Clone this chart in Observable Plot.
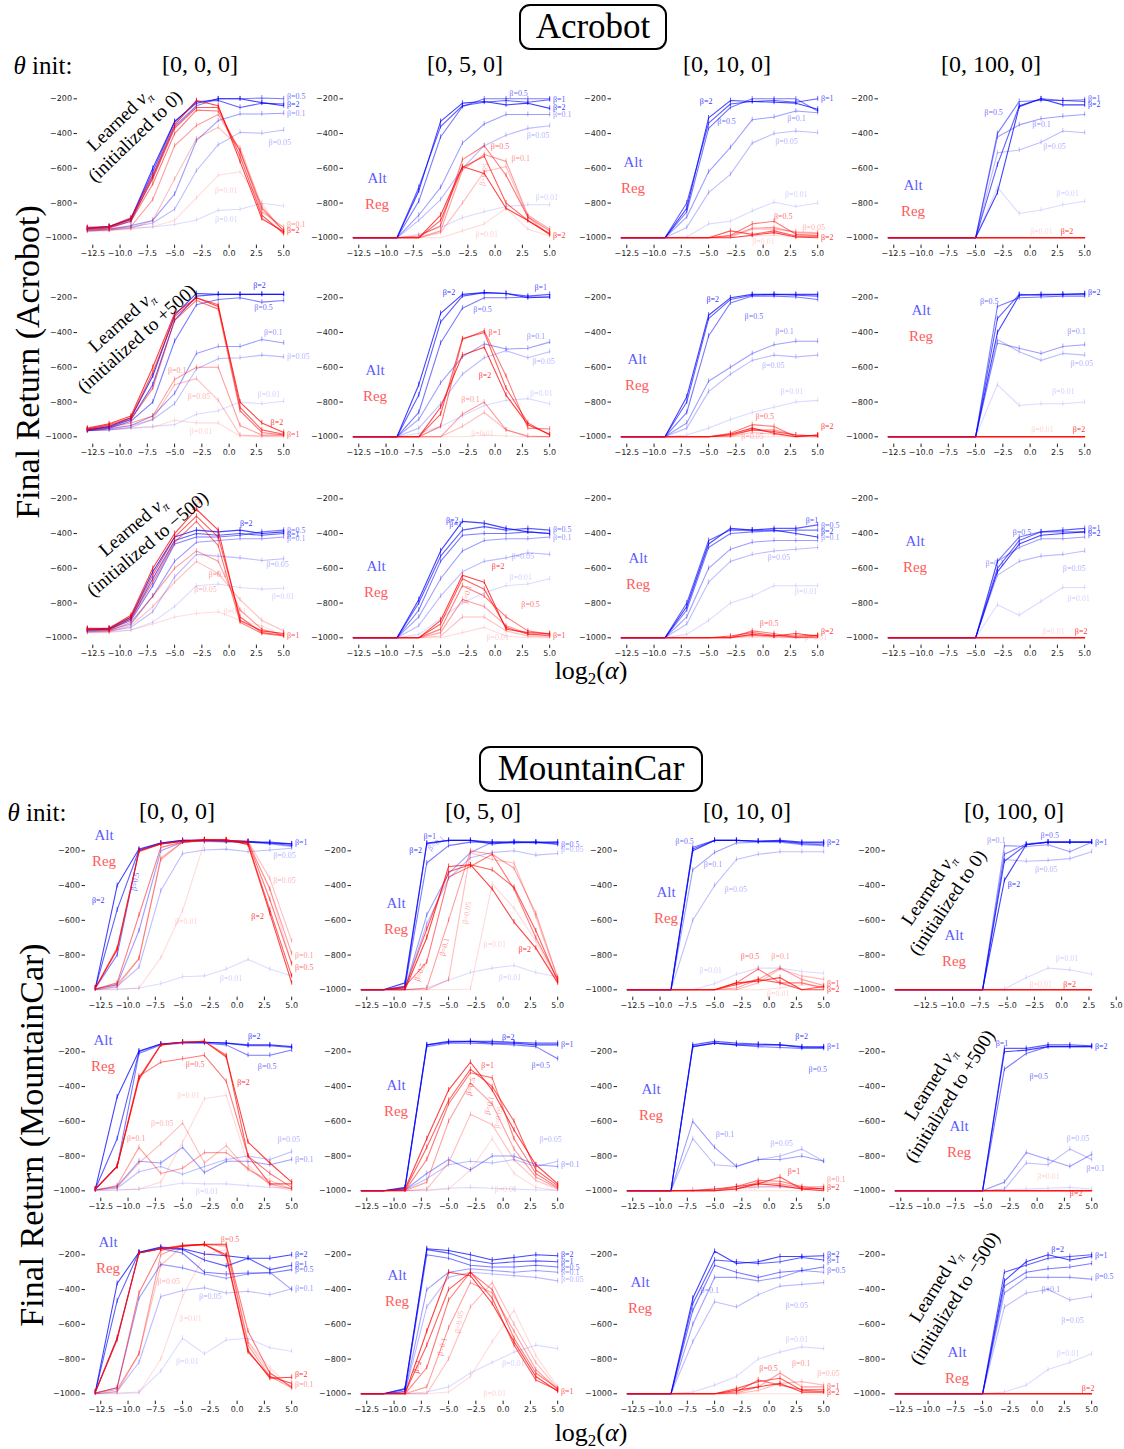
<!DOCTYPE html>
<html><head><meta charset="utf-8">
<script src="https://cdn.jsdelivr.net/npm/d3@7"></script>
<script src="https://cdn.jsdelivr.net/npm/@observablehq/plot@0.6"></script>
<style>
body{margin:0;background:#fff;}
#root{position:relative;width:1124px;height:1449px;overflow:hidden;font-family:"Liberation Serif",serif;color:#000;background:#fff;}
.abs{position:absolute;white-space:nowrap;transform:translate(-50%,-50%);line-height:1;}
.box{position:absolute;border:2px solid #000;border-radius:11px;display:flex;align-items:center;justify-content:center;box-sizing:border-box;transform:translate(-50%,-50%);}
.rot{position:absolute;white-space:nowrap;text-align:center;line-height:1.05;}
</style></head><body><div id="root"></div>
<script>
// ---------- shared ----------
const xs = [-13,-11,-9,-7,-5,-3,-1,1,3,5];
const betas = ["0.01","0.05","0.1","0.5","1","2"];
const xTicks = [-12.5,-10,-7.5,-5,-2.5,0,2.5,5];
const yTicks = [-1000,-800,-600,-400,-200];
const colHeads = ["[0, 0, 0]","[0, 5, 0]","[0, 10, 0]","[0, 100, 0]"];
const fail = [-1000,-1000,-1000,-1000,-1000,-1000,-1000,-1000,-1000,-1000];
const allFail = [fail,fail,fail,fail,fail,fail];

// ---------- Acrobot (series order: beta 0.01,0.05,0.1,0.5,1,2) ----------
const A11_alt = [[-960,-955,-945,-938,-923,-897,-842,-836,-801,-817],[-960,-955,-940,-915,-836,-614,-464,-393,-398,-379],[-955,-950,-930,-900,-749,-441,-325,-287,-287,-283],[-950,-940,-905,-650,-360,-240,-200,-200,-195,-200],[-945,-935,-895,-620,-335,-215,-210,-250,-225,-230],[-945,-935,-890,-600,-330,-225,-200,-200,-222,-240]];
const A11_reg = [[-965,-960,-950,-935,-900,-770,-640,-620,-800,-985],[-960,-955,-945,-900,-662,-430,-364,-480,-820,-960],[-955,-950,-935,-780,-470,-354,-290,-500,-850,-940],[-950,-945,-905,-690,-400,-265,-270,-500,-830,-960],[-945,-940,-895,-660,-370,-250,-250,-530,-870,-975],[-940,-935,-885,-640,-350,-210,-240,-560,-890,-965]];
const A11_lab = [["A","0.5",5.3,-185],["A","2",5.3,-235],["A","0.1",5.3,-285],["A","0.05",3.6,-450],["A","0.01",-1.3,-895],["R","0.01",-1.3,-725],["R","0.1",5.3,-925],["R","2",5.3,-960]];

const A12_alt = [[-1000,-1000,-1000,-980,-940,-885,-850,-820,-810,-810],[-1000,-1000,-1000,-900,-780,-600,-470,-410,-370,-355],[-1000,-1000,-1000,-870,-710,-455,-345,-290,-290,-290],[-1000,-1000,-1000,-790,-420,-245,-200,-200,-200,-200],[-1000,-1000,-1000,-710,-360,-240,-220,-210,-220,-205],[-1000,-1000,-1000,-730,-330,-225,-215,-235,-225,-255]];
const A12_reg = [[-1000,-1000,-1000,-1000,-1000,-960,-920,-830,-950,-990],[-1000,-1000,-1000,-1000,-970,-800,-620,-590,-880,-985],[-1000,-1000,-1000,-1000,-960,-610,-520,-560,-870,-950],[-1000,-1000,-1000,-990,-930,-550,-470,-640,-880,-960],[-1000,-1000,-1000,-1000,-900,-595,-530,-800,-900,-975],[-1000,-1000,-1000,-1000,-870,-590,-630,-830,-900,-980]];
const A12_lab = [["A","0.5",1.3,-170],["A","1",5.3,-205],["A","2",5.3,-250],["A","0.1",5.3,-290],["A","0.05",2.9,-408],["R","0.5",-0.4,-475],["R","0.1",1.5,-545],["R","0.05",-1.2,-700,-80],["A","0.01",3.7,-765],["R","0.01",-1.8,-980],["R","2",5.3,-985]];

const A13_alt = [[-1000,-1000,-1000,-995,-920,-905,-845,-795,-820,-800],[-1000,-1000,-1000,-940,-740,-635,-455,-400,-385,-395],[-1000,-1000,-1000,-880,-620,-480,-320,-305,-270,-280],[-1000,-1000,-1000,-850,-370,-250,-200,-200,-200,-270],[-1000,-1000,-1000,-800,-340,-230,-215,-210,-220,-200],[-1000,-1000,-1000,-830,-310,-210,-215,-220,-225,-260]];
const A13_reg = [[-1000,-1000,-1000,-1000,-1000,-1000,-990,-985,-995,-995],[-1000,-1000,-1000,-1000,-1000,-995,-950,-950,-965,-970],[-1000,-1000,-1000,-1000,-1000,-990,-945,-940,-970,-975],[-1000,-1000,-1000,-1000,-1000,-985,-920,-905,-980,-985],[-1000,-1000,-1000,-1000,-1000,-960,-980,-960,-990,-990],[-1000,-1000,-1000,-1000,-1000,-1000,-985,-970,-995,-1000]];
const A13_lab = [["A","2",-5.8,-213],["A","1",5.3,-200],["A","0.5",-4.2,-330],["A","0.1",2.2,-312],["A","0.05",1.1,-447],["A","0.01",2.0,-753],["R","0.5",1.0,-879],["R","0.05",3.6,-942],["R","2",5.3,-995],["R","0.01",-1.0,-1020]];

const A14_alt = [[-1000,-1000,-1000,-1000,-1000,-710,-860,-840,-810,-790],[-1000,-1000,-1000,-1000,-1000,-510,-495,-450,-385,-395],[-1000,-1000,-1000,-1000,-1000,-420,-350,-315,-300,-290],[-1000,-1000,-1000,-1000,-1000,-400,-215,-210,-210,-205],[-1000,-1000,-1000,-1000,-1000,-580,-240,-200,-210,-215],[-1000,-1000,-1000,-1000,-1000,-740,-245,-200,-235,-235]];
const A14_reg = allFail;
const A14_lab = [["A","1",5.3,-200],["A","2",5.3,-235],["A","0.5",-4.2,-277],["A","0.1",0.2,-345],["A","0.05",1.2,-476],["A","0.01",2.4,-745],["R","0.01",0.0,-965],["R","2",2.8,-965]];

const A21_alt = [[-965,-960,-950,-940,-930,-870,-850,-800,-810,-795],[-965,-960,-945,-900,-810,-610,-550,-545,-530,-540],[-965,-955,-935,-880,-750,-520,-480,-480,-440,-460],[-965,-950,-910,-800,-450,-240,-210,-200,-225,-215],[-960,-945,-900,-700,-330,-190,-180,-180,-180,-180],[-960,-940,-890,-650,-300,-175,-180,-180,-180,-180]];
const A21_reg = [[-965,-960,-950,-945,-905,-920,-920,-995,-1000,-1000],[-960,-950,-935,-900,-700,-665,-790,-990,-995,-995],[-960,-945,-920,-880,-670,-600,-600,-935,-990,-990],[-955,-935,-900,-720,-330,-215,-265,-850,-975,-990],[-955,-930,-890,-630,-310,-200,-240,-830,-960,-985],[-950,-925,-880,-600,-290,-200,-250,-800,-920,-975]];
const A21_lab = [["A","2",2.2,-127],["A","0.5",2.3,-258],["A","0.1",3.2,-402],["A","0.05",5.3,-540],["A","0.01",2.6,-755],["R","0.1",-5.6,-616],["R","0.05",-3.8,-768],["R","0.01",-3.6,-970],["R","2",3.8,-918],["R","1",5.3,-985]];

const A22_alt = [[-1000,-1000,-1000,-980,-940,-880,-820,-790,-780,-810],[-1000,-1000,-1000,-950,-810,-640,-545,-505,-545,-510],[-1000,-1000,-1000,-900,-690,-540,-465,-495,-490,-455],[-1000,-1000,-1000,-860,-460,-260,-200,-200,-195,-195],[-1000,-1000,-1000,-760,-340,-190,-170,-175,-190,-180],[-1000,-1000,-1000,-700,-290,-180,-170,-175,-200,-195]];
const A22_reg = [[-1000,-1000,-1000,-1000,-1000,-1000,-990,-995,-1000,-1000],[-1000,-1000,-1000,-1000,-1000,-940,-860,-960,-1000,-1000],[-1000,-1000,-1000,-1000,-1000,-870,-800,-960,-995,-1000],[-1000,-1000,-1000,-1000,-940,-440,-390,-650,-950,-955],[-1000,-1000,-1000,-1000,-870,-435,-400,-720,-920,-990],[-1000,-1000,-1000,-1000,-830,-530,-485,-760,-930,-985]];
const A22_lab = [["A","2",-4.8,-171],["A","1",3.6,-142],["A","0.5",-2.0,-267],["A","0.1",2.9,-421],["A","0.05",3.4,-566],["A","0.01",3.2,-749],["R","1",-0.6,-400],["R","2",-1.5,-648],["R","0.1",-3.1,-786],["R","0.01",-2.2,-980]];

const A23_alt = [[-1000,-1000,-1000,-990,-950,-900,-860,-830,-800,-790],[-1000,-1000,-1000,-950,-740,-640,-560,-530,-540,-530],[-1000,-1000,-1000,-920,-680,-600,-520,-470,-450,-450],[-1000,-1000,-1000,-860,-420,-230,-190,-190,-195,-210],[-1000,-1000,-1000,-800,-320,-210,-185,-180,-185,-190],[-1000,-1000,-1000,-770,-300,-200,-180,-180,-180,-180]];
const A23_reg = [fail,[-1000,-1000,-1000,-1000,-1000,-1000,-975,-985,-1000,-1000],[-1000,-1000,-1000,-1000,-1000,-995,-960,-960,-990,-995],[-1000,-1000,-1000,-1000,-1000,-980,-930,-940,-1000,-990],[-1000,-1000,-1000,-1000,-1000,-990,-960,-970,-990,-995],[-1000,-1000,-1000,-1000,-1000,-985,-950,-980,-1000,-990]];
const A23_lab = [["A","2",-5.2,-212],["A","0.5",-1.7,-310],["A","0.1",1.1,-391],["A","0.05",-0.1,-588],["A","0.01",1.6,-740],["R","0.5",-0.7,-884],["R","2",5.3,-942],["R","0.05",-2.0,-1000]];

const A24_alt = [[-1000,-1000,-1000,-1000,-1000,-700,-820,-810,-810,-800],[-1000,-1000,-1000,-1000,-1000,-440,-510,-560,-520,-530],[-1000,-1000,-1000,-1000,-1000,-460,-490,-520,-480,-470],[-1000,-1000,-1000,-1000,-1000,-250,-200,-195,-190,-190],[-1000,-1000,-1000,-1000,-1000,-320,-180,-185,-180,-180],[-1000,-1000,-1000,-1000,-1000,-400,-185,-180,-180,-175]];
const A24_reg = allFail;
const A24_lab = [["A","0.5",-4.6,-220],["A","2",5.3,-170],["A","0.1",3.4,-391],["A","0.05",3.7,-577],["A","0.01",2.0,-740],["R","0.01",0.1,-960],["R","2",3.9,-960]];

const A31_alt = [[-970,-965,-955,-910,-820,-700,-690,-710,-720,-715],[-965,-960,-940,-850,-650,-520,-530,-540,-555,-545],[-960,-955,-920,-760,-560,-450,-440,-430,-430,-420],[-955,-950,-900,-700,-460,-420,-420,-410,-390,-380],[-955,-950,-890,-660,-440,-400,-410,-400,-410,-400],[-950,-945,-880,-620,-420,-380,-390,-380,-400,-390]];
const A31_reg = [[-970,-970,-955,-920,-880,-860,-850,-900,-930,-990],[-965,-965,-930,-820,-680,-560,-630,-780,-900,-960],[-960,-960,-910,-760,-600,-500,-560,-840,-950,-985],[-950,-955,-890,-680,-450,-330,-470,-910,-975,-990],[-950,-950,-880,-640,-420,-300,-420,-880,-970,-985],[-945,-945,-870,-600,-400,-260,-380,-900,-960,-975]];
const A31_lab = [["A","2",1.0,-339],["A","0.5",5.3,-380],["A","1",5.3,-405],["A","0.1",5.3,-430],["A","0.05",3.4,-577],["A","0.01",3.9,-762],["R","2",-3.2,-270,-70],["R","0.1",-1.9,-635],["R","0.05",-3.2,-722],["R","0.01",-0.5,-850],["R","1",5.3,-985]];

const A32_alt = [[-1000,-1000,-1000,-980,-890,-800,-740,-700,-690,-660],[-1000,-1000,-1000,-930,-760,-620,-560,-540,-510,-520],[-1000,-1000,-1000,-880,-660,-500,-440,-430,-430,-420],[-1000,-1000,-1000,-840,-560,-410,-400,-400,-390,-400],[-1000,-1000,-1000,-800,-530,-380,-360,-380,-370,-380],[-1000,-1000,-1000,-780,-500,-330,-340,-370,-390,-400]];
const A32_reg = [[-1000,-1000,-1000,-1000,-1000,-970,-940,-990,-1000,-1000],[-1000,-1000,-1000,-1000,-990,-880,-880,-960,-990,-995],[-1000,-1000,-1000,-1000,-970,-780,-820,-930,-975,-990],[-1000,-1000,-1000,-1000,-950,-700,-760,-880,-960,-980],[-1000,-1000,-1000,-1000,-920,-660,-720,-940,-980,-985],[-1000,-1000,-1000,-1000,-900,-640,-680,-950,-970,-975]];
const A32_lab = [["A","2",-4.5,-322],["A","1",-4.2,-345],["A","0.5",5.3,-375],["A","0.1",5.3,-420],["A","0.05",1.5,-530],["A","0.01",1.3,-650],["R","2",-0.3,-591],["R","0.5",2.4,-806],["R","0.1",-2.8,-800,-75],["R","0.01",-0.8,-1000],["R","1",5.3,-985]];

const A33_alt = [[-1000,-1000,-1000,-980,-900,-800,-760,-700,-700,-700],[-1000,-1000,-1000,-920,-680,-560,-520,-500,-490,-480],[-1000,-1000,-1000,-880,-600,-490,-450,-440,-440,-440],[-1000,-1000,-1000,-840,-480,-400,-390,-385,-380,-380],[-1000,-1000,-1000,-800,-440,-380,-380,-370,-370,-350],[-1000,-1000,-1000,-820,-460,-370,-380,-380,-400,-420]];
const A33_reg = [fail,[-1000,-1000,-1000,-1000,-1000,-1000,-990,-995,-1000,-1000],[-1000,-1000,-1000,-1000,-1000,-995,-985,-990,-995,-1000],[-1000,-1000,-1000,-1000,-1000,-1000,-960,-975,-1000,-990],[-1000,-1000,-1000,-1000,-1000,-990,-970,-985,-990,-985],[-1000,-1000,-1000,-1000,-1000,-1000,-980,-990,-975,-990]];
const A33_lab = [["A","1",3.9,-322],["A","0.5",5.3,-355],["A","2",5.3,-390],["A","0.1",5.3,-420],["A","0.05",0.4,-536],["A","0.01",2.9,-733],["R","0.5",-0.3,-919],["R","2",5.3,-965],["R","0.01",3.8,-995]];

const A34_alt = [[-1000,-1000,-1000,-1000,-1000,-810,-870,-790,-710,-710],[-1000,-1000,-1000,-1000,-1000,-640,-560,-530,-520,-500],[-1000,-1000,-1000,-1000,-1000,-560,-480,-430,-430,-420],[-1000,-1000,-1000,-1000,-1000,-560,-420,-390,-390,-390],[-1000,-1000,-1000,-1000,-1000,-600,-440,-390,-380,-370],[-1000,-1000,-1000,-1000,-1000,-620,-460,-410,-400,-390]];
const A34_reg = allFail;
const A34_lab = [["A","0.5",-1.6,-391],["A","1",5.3,-370],["A","2",5.3,-400],["A","0.1",-4.1,-571],["A","0.05",3.0,-600],["A","0.01",3.4,-774],["R","0.01",1.1,-965],["R","2",4.1,-965]];

// ---------- MountainCar ----------
const M11_alt = [[-1000,-995,-990,-965,-925,-920,-880,-825,-880,-920],[-1000,-980,-870,-430,-215,-195,-190,-205,-195,-185],[-995,-970,-660,-200,-150,-145,-150,-150,-160,-175],[-990,-800,-200,-160,-145,-140,-145,-150,-155,-170],[-990,-540,-195,-155,-140,-140,-145,-150,-150,-160],[-990,-400,-190,-155,-140,-140,-140,-145,-155,-160]];
const M11_reg = [[-1000,-1000,-990,-815,-545,-150,-145,-150,-420,-850],[-1000,-985,-820,-240,-150,-140,-140,-145,-360,-720],[-995,-970,-820,-250,-150,-140,-140,-150,-420,-790],[-995,-960,-570,-180,-150,-140,-140,-150,-480,-850],[-990,-760,-205,-160,-145,-135,-140,-160,-540,-920],[-990,-770,-200,-160,-145,-135,-135,-165,-560,-960]];
const M11_lab = [["A","1",5.3,-150],["A","0.05",3.3,-229],["A","2",-13.3,-488],["A","0.5",-9.5,-430,-80],["A","0.01",-1.6,-933],["R","0.05",3.3,-369],["R","2",1.3,-580],["R","0.01",-5.7,-607],["R","0.1",5.3,-800],["R","0.5",5.3,-870]];

const M12_alt = [[-1000,-1000,-1000,-990,-945,-900,-875,-860,-900,-925],[-1000,-1000,-995,-620,-360,-240,-210,-200,-225,-215],[-1000,-1000,-990,-570,-330,-210,-150,-145,-150,-165],[-1000,-1000,-985,-270,-170,-150,-150,-150,-155,-150],[-1000,-1000,-980,-160,-140,-140,-150,-155,-150,-160],[-1000,-1000,-960,-155,-140,-140,-160,-150,-150,-150]];
const M12_reg = [[-1000,-1000,-1000,-1000,-1000,-995,-390,-530,-720,-960],[-1000,-1000,-1000,-1000,-940,-210,-250,-270,-580,-940],[-1000,-1000,-1000,-990,-600,-200,-220,-300,-560,-930],[-1000,-1000,-980,-840,-350,-290,-220,-420,-700,-940],[-1000,-1000,-990,-650,-320,-280,-310,-410,-660,-950],[-1000,-1000,-1000,-700,-290,-280,-420,-610,-760,-960]];
const M12_lab = [["A","1",-7.3,-119],["A","2",-8.6,-196],["A","0.1",-6.8,-190,-40],["A","0.5",5.3,-165],["A","0.05",5.3,-190],["A","0.01",-0.4,-929],["R","0.5",-7.9,-949,-70],["R","0.1",-5.6,-805,-75],["R","0.05",-3.5,-622,-80],["R","0.01",-1.8,-737],["R","2",1.4,-766]];

const M13_alt = [[-1000,-1000,-1000,-1000,-965,-910,-875,-875,-895,-905],[-1000,-1000,-1000,-600,-400,-250,-220,-205,-205,-205],[-1000,-1000,-1000,-310,-210,-155,-150,-150,-165,-170],[-1000,-1000,-1000,-180,-140,-140,-145,-145,-160,-165],[-1000,-1000,-1000,-190,-140,-140,-145,-145,-155,-155],[-1000,-1000,-1000,-200,-140,-140,-145,-140,-150,-150]];
const M13_reg = [[-1000,-1000,-1000,-1000,-1000,-1000,-1000,-990,-970,-980],[-1000,-1000,-1000,-1000,-1000,-1000,-960,-880,-920,-940],[-1000,-1000,-1000,-1000,-1000,-990,-940,-875,-940,-975],[-1000,-1000,-1000,-1000,-1000,-960,-880,-960,-960,-990],[-1000,-1000,-1000,-1000,-1000,-970,-940,-960,-1000,-980],[-1000,-1000,-1000,-1000,-1000,-960,-950,-930,-1000,-1000]];
const M13_lab = [["A","0.5",-8.6,-146],["A","0.1",-6.0,-277],["A","0.05",-4.1,-421],["A","2",5.3,-150],["A","0.01",-6.4,-891],["R","0.5",-2.6,-810],["R","0.1",0.2,-810],["R","1",5.3,-965],["R","2",5.3,-1000],["R","0.01",-0.2,-1018]];

const M14_alt = [[-1000,-1000,-1000,-1000,-1000,-995,-930,-875,-885,-910],[-1000,-1000,-1000,-1000,-1000,-250,-260,-255,-245,-205],[-1000,-1000,-1000,-1000,-1000,-170,-175,-165,-205,-150],[-1000,-1000,-1000,-1000,-1000,-220,-160,-150,-150,-150],[-1000,-1000,-1000,-1000,-1000,-260,-165,-150,-150,-150],[-1000,-1000,-1000,-1000,-1000,-370,-165,-150,-150,-150]];
const M14_reg = allFail;
const M14_lab = [["A","0.1",-4.6,-138],["A","0.5",0.3,-113],["A","1",5.3,-150],["A","2",-2.7,-396],["A","0.05",-0.2,-306],["A","0.01",1.7,-818],["R","0.01",-0.7,-968],["R","2",2.4,-968]];

const M21_alt = [[-1000,-995,-990,-975,-955,-960,-960,-970,-980,-985],[-995,-985,-890,-860,-905,-860,-820,-800,-820,-775],[-995,-975,-830,-840,-750,-895,-830,-830,-850,-820],[-990,-860,-210,-160,-150,-150,-160,-220,-220,-190],[-990,-700,-200,-155,-145,-145,-150,-165,-165,-175],[-990,-460,-195,-155,-145,-145,-150,-160,-160,-170]];
const M21_reg = [[-1000,-995,-990,-950,-720,-470,-450,-850,-970,-1000],[-995,-980,-840,-730,-610,-840,-740,-880,-940,-990],[-995,-970,-750,-900,-870,-780,-780,-870,-960,-990],[-990,-860,-340,-260,-240,-220,-370,-800,-900,-980],[-990,-860,-360,-160,-145,-140,-220,-800,-960,-960],[-990,-860,-350,-160,-145,-140,-230,-720,-840,-950]];
const M21_lab = [["A","2",1.0,-110],["A","0.5",1.9,-283],["A","0.05",3.7,-706],["A","0.1",5.3,-820],["A","0.01",-3.8,-1004],["R","0.5",-4.7,-273],["R","2",0,-379],["R","0.01",-5.5,-450],["R","0.05",-7.9,-610],["R","0.1",-10.1,-700]];

const M22_alt = [[-1000,-1000,-1000,-995,-985,-980,-985,-990,-995,-995],[-1000,-1000,-995,-930,-850,-830,-840,-820,-860,-830],[-1000,-1000,-995,-900,-820,-880,-800,-800,-850,-860],[-1000,-1000,-990,-170,-150,-150,-155,-160,-170,-240],[-1000,-1000,-985,-160,-145,-140,-140,-145,-150,-150],[-1000,-1000,-980,-160,-140,-140,-150,-150,-160,-160]];
const M22_reg = [[-1000,-1000,-1000,-1000,-990,-880,-700,-900,-980,-1000],[-1000,-1000,-1000,-990,-840,-560,-620,-820,-940,-990],[-1000,-1000,-1000,-950,-600,-380,-500,-760,-920,-985],[-1000,-1000,-1000,-820,-500,-320,-350,-700,-900,-980],[-1000,-1000,-995,-750,-480,-300,-400,-600,-880,-970],[-1000,-1000,-990,-700,-420,-260,-420,-650,-850,-960]];
const M22_lab = [["A","2",-0.1,-119],["A","1",5.3,-160],["A","0.5",2.6,-281],["A","0.05",3.3,-704],["A","0.1",5.3,-850],["R","1",-2.0,-281],["R","0.5",-3.2,-450,-75],["R","0.1",-1.5,-560,-75],["R","0.05",-0.6,-640,-80],["R","0.01",-0.8,-990]];

const M23_alt = [[-1000,-1000,-1000,-995,-990,-985,-980,-980,-985,-990],[-1000,-1000,-1000,-700,-850,-860,-820,-800,-760,-830],[-1000,-1000,-1000,-600,-750,-860,-820,-820,-800,-830],[-1000,-1000,-1000,-170,-150,-160,-170,-175,-180,-180],[-1000,-1000,-1000,-160,-140,-150,-155,-160,-175,-170],[-1000,-1000,-1000,-170,-150,-160,-160,-160,-170,-175]];
const M23_reg = [fail,[-1000,-1000,-1000,-995,-990,-985,-975,-975,-985,-990],[-1000,-1000,-1000,-1000,-1000,-990,-950,-960,-980,-975],[-1000,-1000,-1000,-1000,-1000,-975,-940,-945,-975,-990],[-1000,-1000,-1000,-1000,-990,-975,-960,-920,-990,-985],[-1000,-1000,-1000,-1000,-1000,-990,-960,-970,-990,-1000]];
const M23_lab = [["A","2",2.4,-113],["A","1",5.3,-170],["A","0.5",3.6,-304],["A","0.1",-4.9,-675],["A","0.05",0.1,-727],["R","1",1.7,-890],["R","0.1",5.3,-936],["R","2",5.3,-980],["R","0.01",-3.2,-980]];

const M24_alt = [[-1000,-1000,-1000,-1000,-1000,-995,-990,-985,-980,-990],[-1000,-1000,-1000,-1000,-1000,-990,-840,-850,-760,-820],[-1000,-1000,-1000,-1000,-1000,-950,-780,-820,-860,-790],[-1000,-1000,-1000,-1000,-1000,-300,-210,-170,-170,-170],[-1000,-1000,-1000,-1000,-1000,-180,-180,-160,-160,-165],[-1000,-1000,-1000,-1000,-1000,-200,-190,-170,-170,-170]];
const M24_reg = allFail;
const M24_lab = [["A","1",-3.8,-154],["A","0.5",-0.7,-339],["A","2",5.3,-171],["A","0.05",2.7,-699],["A","0.1",4.5,-870],["R","2",3.0,-1014],["R","0.01",0.0,-920]];

const M31_alt = [[-1000,-995,-990,-870,-680,-770,-690,-680,-735,-755],[-1000,-985,-820,-440,-405,-390,-420,-410,-430,-395],[-995,-965,-450,-255,-275,-310,-335,-310,-300,-400],[-990,-680,-190,-165,-190,-300,-310,-305,-305,-285],[-990,-465,-185,-160,-170,-230,-265,-220,-285,-260],[-990,-365,-185,-155,-165,-195,-205,-220,-220,-200]];
const M31_reg = [[-1000,-1000,-995,-800,-440,-200,-170,-700,-850,-970],[-1000,-990,-770,-260,-150,-140,-140,-700,-880,-960],[-995,-975,-770,-200,-145,-140,-150,-720,-900,-965],[-995,-965,-420,-175,-150,-140,-140,-640,-880,-960],[-990,-690,-190,-165,-145,-140,-210,-760,-900,-940],[-990,-680,-190,-165,-150,-140,-200,-750,-910,-905]];
const M31_lab = [["A","2",5.3,-200],["A","1",5.3,-255],["A","0.5",5.3,-285],["A","0.1",5.3,-395],["R","0.5",-1.5,-110],["R","0.05",-7.3,-356],["A","0.05",-3.5,-440],["R","0.01",-5.3,-565],["A","0.01",-5.6,-811],["R","2",5.3,-890],["R","0.1",5.3,-945]];

const M32_alt = [[-1000,-1000,-1000,-990,-960,-880,-820,-760,-720,-740],[-1000,-1000,-995,-500,-330,-300,-310,-320,-330,-350],[-1000,-1000,-990,-400,-300,-280,-290,-300,-290,-300],[-1000,-1000,-985,-200,-220,-260,-270,-270,-260,-270],[-1000,-1000,-975,-170,-190,-230,-250,-240,-235,-240],[-1000,-1000,-970,-165,-175,-200,-230,-215,-200,-205]];
const M32_reg = [[-1000,-1000,-1000,-1000,-990,-900,-700,-520,-780,-960],[-1000,-1000,-1000,-1000,-800,-500,-360,-600,-820,-970],[-1000,-1000,-1000,-960,-620,-360,-420,-640,-860,-975],[-1000,-1000,-1000,-850,-460,-300,-400,-680,-880,-970],[-1000,-1000,-995,-720,-400,-300,-450,-720,-920,-980],[-1000,-1000,-1000,-640,-300,-320,-480,-700,-900,-985]];
const M32_lab = [["A","2",5.3,-200],["A","1",5.3,-240],["A","0.5",5.3,-270],["A","0.1",5.3,-300],["A","0.05",5.3,-340],["R","2",-8.0,-880,-75],["R","0.1",-5.8,-780,-75],["R","0.05",-4.2,-650,-80],["A","0.01",-0.1,-823],["R","0.01",-1.8,-1000],["R","1",5.3,-985]];

const M33_alt = [[-1000,-1000,-1000,-990,-950,-900,-800,-760,-730,-740],[-1000,-1000,-1000,-700,-470,-500,-430,-380,-370,-360],[-1000,-1000,-1000,-600,-330,-330,-350,-330,-290,-300],[-1000,-1000,-1000,-520,-260,-300,-330,-300,-290,-270],[-1000,-1000,-1000,-480,-230,-240,-250,-240,-215,-230],[-1000,-1000,-1000,-450,-180,-250,-240,-210,-210,-205]];
const M33_reg = [fail,[-1000,-1000,-1000,-1000,-1000,-1000,-980,-940,-930,-950],[-1000,-1000,-1000,-1000,-1000,-995,-960,-880,-960,-960],[-1000,-1000,-1000,-1000,-1000,-990,-920,-950,-975,-975],[-1000,-1000,-1000,-1000,-1000,-970,-930,-910,-980,-985],[-1000,-1000,-1000,-1000,-1000,-980,-960,-940,-990,-990]];
const M33_lab = [["A","2",5.3,-200],["A","1",5.3,-230],["A","0.5",5.3,-290],["A","0.1",-6.3,-406],["A","0.05",1.5,-493],["A","0.01",1.5,-687],["R","0.5",-0.9,-855],["R","0.1",2.1,-826],["R","0.05",4.4,-884],["R","1",5.3,-960],["R","2",5.3,-990]];

const M34_alt = [[-1000,-1000,-1000,-1000,-1000,-990,-950,-860,-820,-770],[-1000,-1000,-1000,-1000,-1000,-500,-420,-400,-460,-440],[-1000,-1000,-1000,-1000,-1000,-420,-330,-330,-330,-340],[-1000,-1000,-1000,-1000,-1000,-380,-300,-280,-270,-250],[-1000,-1000,-1000,-1000,-1000,-300,-260,-220,-210,-200],[-1000,-1000,-1000,-1000,-1000,-350,-240,-200,-230,-210]];
const M34_reg = allFail;
const M34_lab = [["A","2",1.3,-171],["A","1",5.3,-206],["A","0.5",5.3,-322],["A","0.1",0.4,-397],["A","0.05",2.2,-580],["A","0.01",1.8,-765],["R","2",4.1,-968]];

// ---------- layout ----------
const acroRowY = [98, 297, 498];   // pixel row of the -200 tick
const mcRowY = [850, 1051, 1254];
const acroColX = [77, 343, 611, 878]; // left spine
const mcColX = [85, 351, 617, 885];
const K = 139 / 800;               // px per return unit
const yDom = [-1042, -60];
const xDom = [-13.9, 5.9];
const frameW = 216;
const ML = 42, MR = 34, MT = 6, MB = 22;
const opac = [0.14, 0.26, 0.38, 0.52, 0.63, 0.74];
const hue = {A: "#0000ff", R: "#ff0000"};

const panels = [
  {s:"A",r:0,c:0,alt:A11_alt,reg:A11_reg,lab:A11_lab},{s:"A",r:0,c:1,alt:A12_alt,reg:A12_reg,lab:A12_lab},
  {s:"A",r:0,c:2,alt:A13_alt,reg:A13_reg,lab:A13_lab},{s:"A",r:0,c:3,alt:A14_alt,reg:A14_reg,lab:A14_lab},
  {s:"A",r:1,c:0,alt:A21_alt,reg:A21_reg,lab:A21_lab},{s:"A",r:1,c:1,alt:A22_alt,reg:A22_reg,lab:A22_lab},
  {s:"A",r:1,c:2,alt:A23_alt,reg:A23_reg,lab:A23_lab},{s:"A",r:1,c:3,alt:A24_alt,reg:A24_reg,lab:A24_lab},
  {s:"A",r:2,c:0,alt:A31_alt,reg:A31_reg,lab:A31_lab},{s:"A",r:2,c:1,alt:A32_alt,reg:A32_reg,lab:A32_lab},
  {s:"A",r:2,c:2,alt:A33_alt,reg:A33_reg,lab:A33_lab},{s:"A",r:2,c:3,alt:A34_alt,reg:A34_reg,lab:A34_lab},
  {s:"M",r:0,c:0,alt:M11_alt,reg:M11_reg,lab:M11_lab},{s:"M",r:0,c:1,alt:M12_alt,reg:M12_reg,lab:M12_lab},
  {s:"M",r:0,c:2,alt:M13_alt,reg:M13_reg,lab:M13_lab},{s:"M",r:0,c:3,alt:M14_alt,reg:M14_reg,lab:M14_lab,shift:2.25},
  {s:"M",r:1,c:0,alt:M21_alt,reg:M21_reg,lab:M21_lab},{s:"M",r:1,c:1,alt:M22_alt,reg:M22_reg,lab:M22_lab},
  {s:"M",r:1,c:2,alt:M23_alt,reg:M23_reg,lab:M23_lab},{s:"M",r:1,c:3,alt:M24_alt,reg:M24_reg,lab:M24_lab},
  {s:"M",r:2,c:0,alt:M31_alt,reg:M31_reg,lab:M31_lab},{s:"M",r:2,c:1,alt:M32_alt,reg:M32_reg,lab:M32_lab},
  {s:"M",r:2,c:2,alt:M33_alt,reg:M33_reg,lab:M33_lab},{s:"M",r:2,c:3,alt:M34_alt,reg:M34_reg,lab:M34_lab}
];

const root = document.getElementById("root");
const fx = d3.format(".1f"), fy = d3.format("d");

function makePanel(p) {
  const marks = [];
  for (const [key, arr] of [["A", p.alt], ["R", p.reg]]) {
    arr.forEach((ys, bi) => {
      const d = ys.map((y, i) => ({x: xs[i], y}));
      marks.push(Plot.line(d, {x: "x", y: "y", stroke: hue[key], strokeOpacity: opac[bi], strokeWidth: 1.1}));
      marks.push(Plot.ruleX(d.filter(v => v.y > -996), {x: "x", y1: v => v.y - 14, y2: v => v.y + 14, stroke: hue[key], strokeOpacity: opac[bi], strokeWidth: 0.9}));
    });
  }
  for (const key of ["A", "R"]) betas.forEach((b, bi) => {
    const L = p.lab.filter(l => l[0] === key && l[1] === b).map(l => ({x: l[2], y: l[3], rot: l[4] || 0, t: "β=" + b}));
    if (L.length) marks.push(Plot.text(L, {x: "x", y: "y", text: "t", rotate: "rot", textAnchor: "start", fill: hue[key], fillOpacity: Math.min(1, opac[bi] + 0.1), fontSize: 8, fontFamily: "Liberation Serif"}));
  });
  const sh = p.shift || 0;
  marks.push(Plot.axisY({ticks: yTicks, tickFormat: fy, tickSize: 3.5, tickPadding: 2, line: true, label: null}));
  marks.push(Plot.axisX({ticks: xTicks.map(t => t + sh), tickFormat: t => fx(t - sh), tickSize: 3.5, tickPadding: 2, line: true, label: null}));
  const frameH = (yDom[1] - yDom[0]) * K;
  const svg = Plot.plot({
    width: ML + frameW + MR, height: MT + frameH + MB,
    marginLeft: ML, marginRight: MR, marginTop: MT, marginBottom: MB,
    x: {domain: xDom}, y: {domain: yDom},
    style: {fontFamily: "DejaVu Sans", fontSize: "8px", color: "#222", background: "transparent", overflow: "visible"},
    marks
  });
  const y200 = (p.s === "A" ? acroRowY : mcRowY)[p.r];
  const left = (p.s === "A" ? acroColX : mcColX)[p.c] - ML;
  const top = y200 - (yDom[1] + 200) * K - MT;
  svg.style.position = "absolute";
  svg.style.left = left + "px";
  svg.style.top = top + "px";
  root.appendChild(svg);
}
panels.forEach(makePanel);

// ---------- text ----------
function put(html, x, y, css, cls) {
  const el = document.createElement("div");
  el.className = cls || "abs";
  el.innerHTML = html;
  el.style.left = x + "px"; el.style.top = y + "px";
  Object.assign(el.style, css || {});
  root.appendChild(el);
  return el;
}
// titles
put("Acrobot", 593, 27, {width: "148px", height: "46px", fontSize: "35px"}, "box");
put("MountainCar", 591, 769, {width: "224px", height: "46px", fontSize: "35px"}, "box");
// theta init
put("<i>θ</i> init:", 43, 65, {fontSize: "25px"});
put("<i>θ</i> init:", 37, 812, {fontSize: "25px"});
const acroHeadX = [200, 465, 727, 991], mcHeadX = [177, 483, 747, 1014];
colHeads.forEach((h, i) => { put(h, acroHeadX[i], 64, {fontSize: "24px"}); put(h, mcHeadX[i], 811, {fontSize: "24px"}); });
// axis titles
put("Final Return (Acrobot)", 28, 362, {fontSize: "34px", transform: "translate(-50%,-50%) rotate(-90deg)"});
put("Final Return (MountainCar)", 32, 1135, {fontSize: "34px", transform: "translate(-50%,-50%) rotate(-90deg)"});
put("log<sub style='font-size:17px;vertical-align:-5px'>2</sub>(<i>α</i>)", 591, 672, {fontSize: "26px"});
put("log<sub style='font-size:17px;vertical-align:-5px'>2</sub>(<i>α</i>)", 591, 1434, {fontSize: "26px"});
// Alt / Reg legends
const altReg = [[377,178],[633,162],[913,185],[375,370],[637,359],[921,310],[376,566],[638,558],[915,541],
  [104,835],[396,903],[666,892],[954,935],[103,1040],[396,1085],[651,1089],[959,1126],[108,1242],[397,1275],[640,1282],[957,1352]];
altReg.forEach(([x, y]) => {
  put("Alt", x, y, {fontSize: "15px", color: "#5b5bff"});
  put("Reg", x, y + 26, {fontSize: "15px", color: "#ff5b5b"});
});
// learned v_pi annotations
const vpi = "Learned <i>v</i><sub style='font-size:12px;vertical-align:-4px'><i>π</i></sub>";
const learned = [["0", 127, 128, -44], ["+500", 129, 330, -42], ["−500", 140, 535, -40],
  ["0", 938, 896, -56], ["+500", 940, 1090, -58], ["−500", 945, 1292, -58]];
learned.forEach(([v, x, y, a]) => {
  put(vpi + "<br>(initialized to " + v + ")", x, y, {fontSize: "19px", transform: `translate(-50%,-50%) rotate(${a}deg)`}, "rot");
});
</script></body></html>
